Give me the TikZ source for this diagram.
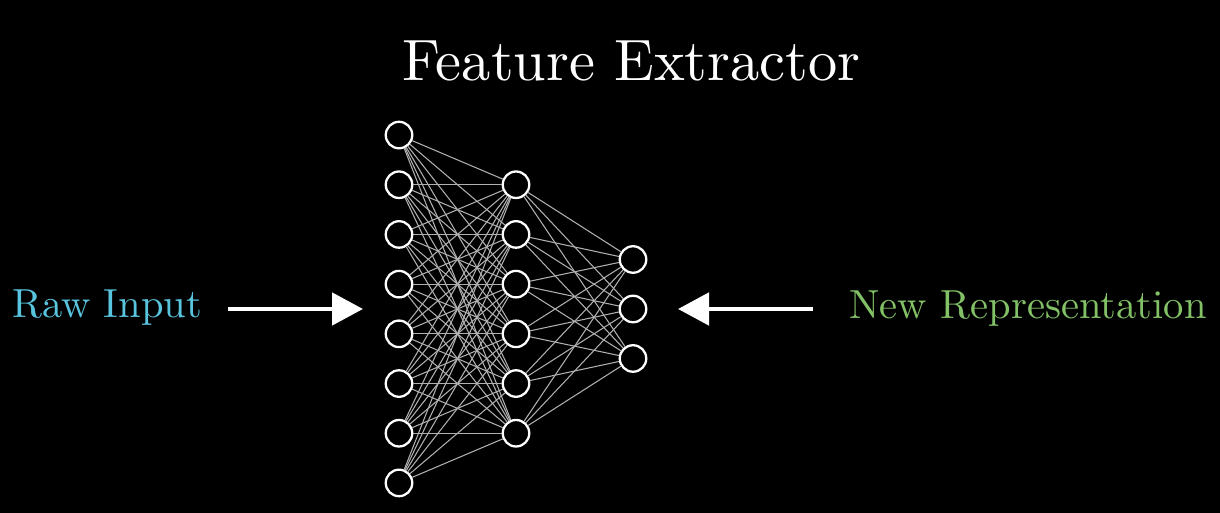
\documentclass[tikz,border=0pt]{standalone}
\usepackage{fontspec}
\usetikzlibrary{arrows.meta}
\newfontfamily\lmten{lmroman10-regular.otf}
\definecolor{rawblue}{HTML}{58C4DD}
\definecolor{newgreen}{HTML}{83C167}
\definecolor{edge}{HTML}{B0B0B0}
\begin{document}
\begin{tikzpicture}[
  neuron/.style={shape=circle, fill=black, draw=white, line width=1.3pt, minimum size=0.53cm, inner sep=0pt},
  link/.style={draw=edge, line width=0.6pt},
  fat/.style={draw=white, fill=white, line width=2.8pt, -{Triangle[length=0.62cm, width=0.64cm]}},
  label/.style={inner sep=0pt, font=\lmten\fontsize{23.1}{27}\selectfont},
]

%background
\fill[black] (0,0) rectangle (24.4,10.26);
\useasboundingbox (0,0) rectangle (24.4,10.26);

%layers
\foreach \i in {1,...,8}
  \node[neuron] (in\i) at (7.98, {4.08+(4.5-\i)*0.994}) {};
\foreach \i in {1,...,6}
  \node[neuron] (hid\i) at (10.32, {4.08+(3.5-\i)*0.994}) {};
\foreach \i in {1,...,3}
  \node[neuron] (out\i) at (12.66, {4.08+(2-\i)*0.99}) {};

%weights
\foreach \i in {1,...,8}
  \foreach \j in {1,...,6}
    \draw[link] (in\i) -- (hid\j);
\foreach \i in {1,...,6}
  \foreach \j in {1,...,3}
    \draw[link] (hid\i) -- (out\j);

%title
\node[inner sep=0pt, anchor=base, white, font=\lmten\fontsize{33.2}{40}\selectfont] (title) at (12.63,8.64) {Feature Extractor};

%input side
\node[label, anchor=base east, rawblue] (raw) at (4.05,3.9) {Raw Input};
\coordinate (rawtail) at (4.56,4.08);
\coordinate (rawtip) at (7.26,4.08);
\draw[fat] (rawtail) -- (rawtip);

%output side
\node[label, anchor=base west, newgreen] (rep) at (16.98,3.88) {New Representation};
\coordinate (reptail) at (16.26,4.08);
\coordinate (reptip) at (13.56,4.08);
\draw[fat] (reptail) -- (reptip);

\end{tikzpicture}
\end{document}
